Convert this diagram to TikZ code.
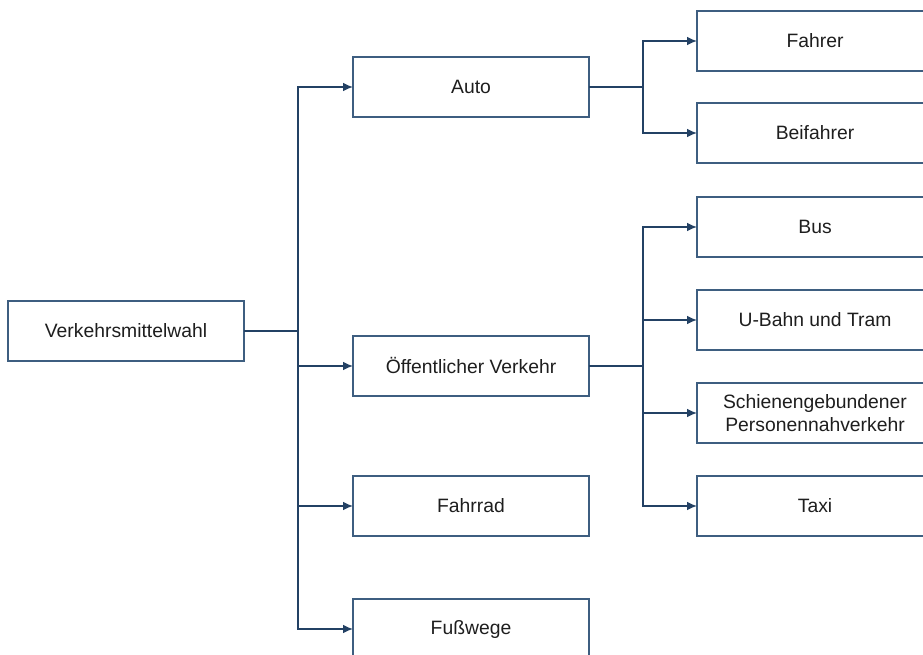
\documentclass[tikz,border=0pt]{standalone}
\usepackage{fontspec}
\setmainfont{Liberation Sans}
\usetikzlibrary{arrows.meta}

\definecolor{linie}{RGB}{35,65,100}
\definecolor{rahmen}{RGB}{62,94,128}
\definecolor{schrift}{RGB}{30,30,30}

\begin{document}
\begin{tikzpicture}[
    x=0.75pt, y=-0.75pt,
    box/.style={rectangle, draw=rahmen, line width=1.2pt, fill=white, minimum width=177pt, minimum height=45pt, inner sep=0pt, outer sep=0pt, align=center, text=schrift, font=\fontsize{14.5}{17.5}\selectfont},
    line/.style={draw=linie, line width=1pt},
    link/.style={line, -{Latex[length=7.5pt, width=6.5pt]}}
]

% Bildausschnitt
\clip (0,0) rectangle (923,655);
\fill[white] (0,0) rectangle (923,655);

% Wurzel
\node[box] (wahl) at (126,331) {Verkehrsmittelwahl};

% Verkehrsmittel
\node[box] (auto) at (471,87) {Auto};
\node[box] (oev) at (471,366) {Öffentlicher Verkehr};
\node[box] (fahrrad) at (471,506) {Fahrrad};
\node[box] (fuss) at (471,629) {Fußwege};

% Auto
\node[box] (fahrer) at (815,41) {Fahrer};
\node[box] (beifahrer) at (815,133) {Beifahrer};

% ÖV
\node[box] (bus) at (815,227) {Bus};
\node[box] (ubahn) at (815,320) {U-Bahn und Tram};
\node[box] (schiene) at (815,413) {Schienengebundener\\Personennahverkehr};
\node[box] (taxi) at (815,506) {Taxi};

% Verzweigungen
\coordinate (ast1) at (298,331);
\coordinate (ast2) at (643,87);
\coordinate (ast3) at (643,366);

% Verbindungen
\draw[line] (wahl) -- (ast1);
\draw[link] (ast1) |- (auto);
\draw[link] (ast1) |- (oev);
\draw[link] (ast1) |- (fahrrad);
\draw[link] (ast1) |- (fuss);

\draw[line] (auto) -- (ast2);
\draw[link] (ast2) |- (fahrer);
\draw[link] (ast2) |- (beifahrer);

\draw[line] (oev) -- (ast3);
\draw[link] (ast3) |- (bus);
\draw[link] (ast3) |- (ubahn);
\draw[link] (ast3) |- (schiene);
\draw[link] (ast3) |- (taxi);

\end{tikzpicture}
\end{document}
